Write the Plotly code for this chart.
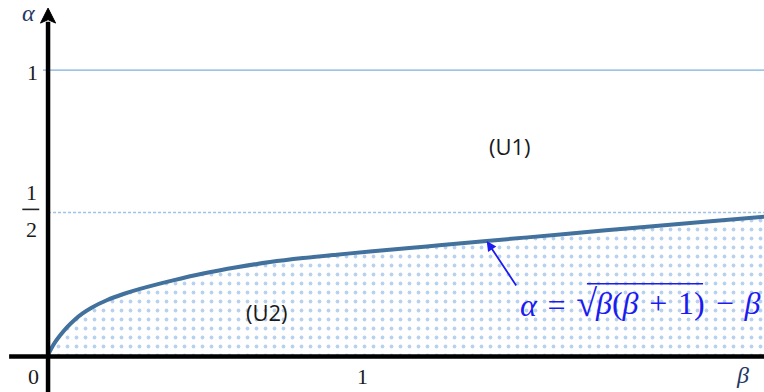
import plotly.graph_objects as go

# boundary curve between regions (U1) and (U2)
beta = [0.0, 0.010, 0.022, 0.038, 0.060, 0.085, 0.110, 0.140, 0.187, 0.240,
        0.293, 0.398, 0.494, 0.601, 0.707, 0.812, 0.919, 1.025, 1.206, 1.397,
        1.631, 1.843, 2.054, 2.285]
alpha = [0.0, 0.022, 0.044, 0.068, 0.097, 0.124, 0.146, 0.167, 0.192, 0.214,
         0.232, 0.262, 0.286, 0.308, 0.326, 0.340, 0.352, 0.363, 0.381, 0.400,
         0.423, 0.444, 0.464, 0.486]

# reference levels and tick labels
alpha_levels = [1.0, 0.5]
x_ticks = [0, 1]
x_tick_labels = ["0", "1"]

X_RANGE = [-0.153, 2.280]
Y_RANGE = [-0.130, 1.246]

SERIF = "Liberation Serif"
CURVE = "#41719c"
DOT = "#6fa4e0"
FORMULA = "#1c1cf0"

fig = go.Figure()

fig.add_trace(go.Scatter(
    x=beta, y=alpha, mode="lines",
    line=dict(color=CURVE, width=4, shape="spline", smoothing=1.0),
    fill="tozeroy", fillcolor="white",
    fillpattern=dict(shape=".", fgcolor=DOT, bgcolor="white",
                     size=9, solidity=0.14),
    hoverinfo="skip", showlegend=False,
))

shapes = []
# α = 1 (solid) and α = 1/2 (dashed) guide lines
shapes.append(dict(type="line", xref="x", yref="y", x0=-0.016, x1=X_RANGE[1],
                   y0=alpha_levels[0], y1=alpha_levels[0],
                   line=dict(color="#5b9bd5", width=1), layer="below"))
shapes.append(dict(type="line", xref="x", yref="y", x0=0, x1=X_RANGE[1],
                   y0=alpha_levels[1], y1=alpha_levels[1],
                   line=dict(color="#9dc3e6", width=1.6, dash="3px,2px"),
                   layer="below"))
# coordinate axes
shapes.append(dict(type="line", xref="x", yref="y", x0=-0.124, x1=X_RANGE[1],
                   y0=-0.005, y1=-0.005, line=dict(color="black", width=4.5),
                   layer="above"))
shapes.append(dict(type="line", xref="x", yref="y", x0=0, x1=0,
                   y0=Y_RANGE[0], y1=1.17, line=dict(color="black", width=4.5),
                   layer="above"))
# arrowhead of the α axis
tip, base, half = 1.2175, 1.165, 0.024
shapes.append(dict(type="path", xref="x", yref="y",
                   path=f"M 0 {tip} L {half} {base} L 0 {base + 0.012} "
                        f"L {-half} {base} Z",
                   fillcolor="black", line=dict(color="black", width=1),
                   layer="above"))
# fraction bar of the 1/2 label
shapes.append(dict(type="line", xref="x", yref="y", x0=-0.082, x1=-0.028,
                   y0=alpha_levels[1] + 0.011, y1=alpha_levels[1] + 0.011,
                   line=dict(color="#222222", width=1.6)))

ann = []
tick_font = dict(family=SERIF, size=22, color="#1a1a1a")
# α-axis tick labels
ann.append(dict(x=-0.051, y=alpha_levels[0], text="1", showarrow=False,
                xref="x", yref="y", font=tick_font, yshift=-2))
ann.append(dict(x=-0.054, y=alpha_levels[1], text="1", showarrow=False,
                xref="x", yref="y", font=tick_font, yshift=20))
ann.append(dict(x=-0.054, y=alpha_levels[1], text="2", showarrow=False,
                xref="x", yref="y", font=tick_font, yshift=-17))
# β-axis tick labels
for xv, lab in zip(x_ticks, x_tick_labels):
    ann.append(dict(x=xv, y=-0.077, text=lab, showarrow=False, xref="x",
                    yref="y", font=tick_font,
                    xshift=-15 if xv == 0 else 0))
# axis names
ann.append(dict(x=-0.061, y=1.200, text="<i>α</i>", showarrow=False,
                xref="x", yref="y",
                font=dict(family=SERIF, size=24, color="#1f3864")))
ann.append(dict(x=2.213, y=-0.070, text="<i>β</i>", showarrow=False,
                xref="x", yref="y",
                font=dict(family=SERIF, size=24, color="#1f3864")))
# region labels
region_font = dict(family="Open Sans", size=22, color="#1a1a1a")
ann.append(dict(x=1.471, y=0.733, text="(U1)", showarrow=False,
                xref="x", yref="y", font=region_font))
ann.append(dict(x=0.697, y=0.151, text="(U2)", showarrow=False,
                xref="x", yref="y", font=region_font))

# formula of the curve: left part, radicand (with vinculum), right part
formula_font = dict(family=SERIF, size=32, color=FORMULA)
ann.append(dict(x=1.497, y=0.182, xanchor="left", showarrow=False,
                xref="x", yref="y",
                text="<i>α</i>\u2004=\u2004<span style='font-size:38px'>√</span>",
                font=formula_font))
ann.append(dict(x=1.735, y=0.182, xanchor="left", showarrow=False,
                xref="x", yref="y",
                text="<i>β</i>(<i>β</i>\u2004+\u20041)",
                font=formula_font))
ann.append(dict(x=2.086, y=0.182, xanchor="left", showarrow=False,
                xref="x", yref="y",
                text="\u2004−\u2004<i>β</i>",
                font=formula_font))
shapes.append(dict(type="line", xref="x", yref="y", x0=1.716, x1=2.086,
                   y0=0.250, y1=0.250, line=dict(color=FORMULA, width=1.6)))
ann.append(dict(x=beta[19], y=alpha[19], ax=1.494, ay=0.239,
                xref="x", yref="y", axref="x", ayref="y", text="",
                showarrow=True, arrowhead=2, arrowsize=1.1, arrowwidth=1.8,
                arrowcolor=FORMULA))

fig.update_layout(
    width=764, height=392,
    margin=dict(l=0, r=0, t=0, b=0),
    paper_bgcolor="white", plot_bgcolor="white",
    xaxis=dict(range=X_RANGE, visible=False, fixedrange=True),
    yaxis=dict(range=Y_RANGE, visible=False, fixedrange=True),
    shapes=shapes, annotations=ann, showlegend=False,
)

fig.write_html("out.html")
